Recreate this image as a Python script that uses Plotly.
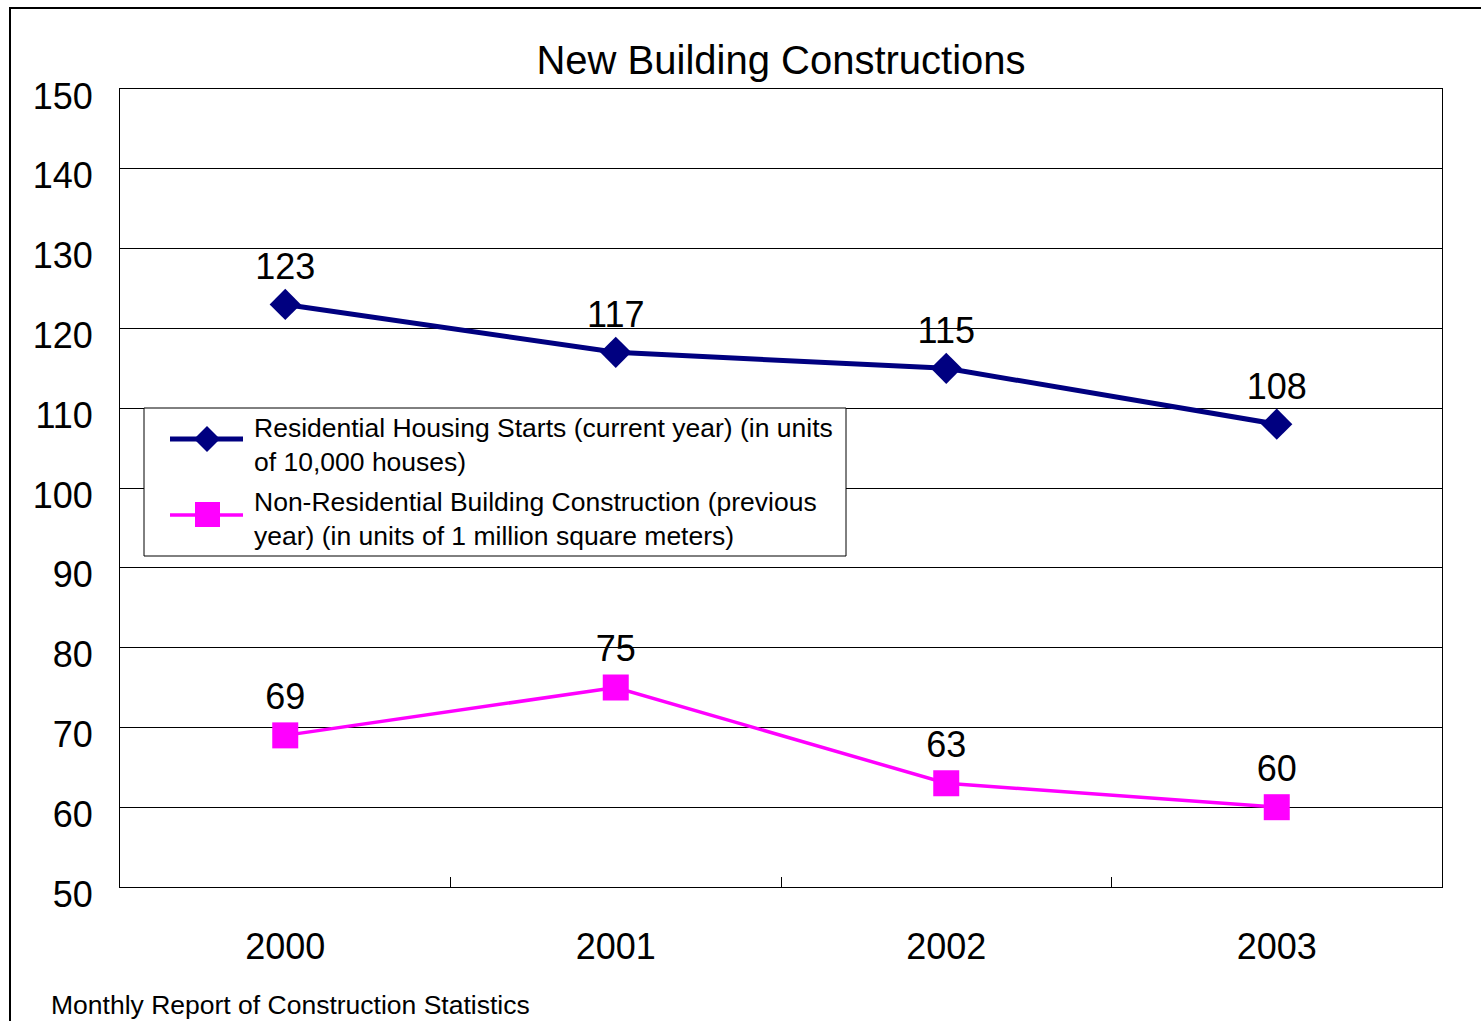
import plotly.graph_objects as go

years = ["2000", "2001", "2002", "2003"]
residential = [123, 117, 115, 108]
non_residential = [69, 75, 63, 60]
y_ticks = [50, 60, 70, 80, 90, 100, 110, 120, 130, 140, 150]

res_name = "Residential Housing Starts (current year) (in units<br>of 10,000 houses)"
nonres_name = "Non-Residential Building Construction (previous<br>year) (in units of 1 million square meters)"

NAVY = "#000080"
MAGENTA = "#FF00FF"
FONT = "Liberation Sans, Arial, sans-serif"
W, H = 1481, 1021
L, R, T, B = 120, 1442, 89, 887

fig = go.Figure()
fig.add_trace(go.Scatter(
    x=years, y=residential, name=res_name, mode="lines+markers+text",
    line=dict(color=NAVY, width=5),
    marker=dict(symbol="diamond", size=24, color=NAVY),
    text=[str(v) for v in residential], textposition="top center",
    textfont=dict(size=36, color="black", family=FONT),
))
fig.add_trace(go.Scatter(
    x=years, y=non_residential, name=nonres_name, mode="lines+markers+text",
    line=dict(color=MAGENTA, width=3.5),
    marker=dict(symbol="square", size=26, color=MAGENTA),
    text=[str(v) for v in non_residential], textposition="top center",
    textfont=dict(size=36, color="black", family=FONT),
))


def px_x(p):
    return (p - L) / (R - L)


def px_y(p):
    return (B - p) / (B - T)


# custom legend (layout decoration)
shapes = [
    dict(type="rect", xref="paper", yref="paper",
         x0=px_x(10), x1=px_x(1500), y0=px_y(1040), y1=px_y(8),
         line=dict(color="black", width=2), layer="below"),
    dict(type="rect", xref="paper", yref="paper",
         x0=px_x(144), x1=px_x(846), y0=px_y(556), y1=px_y(408),
         line=dict(color="black", width=1), fillcolor="white", layer="above"),
    dict(type="line", xref="paper", yref="paper",
         x0=px_x(170), x1=px_x(243), y0=px_y(439), y1=px_y(439),
         line=dict(color=NAVY, width=5), layer="above"),
    dict(type="path", xref="paper", yref="paper",
         path="M {},{} L {},{} L {},{} L {},{} Z".format(
             px_x(207), px_y(426), px_x(220), px_y(439),
             px_x(207), px_y(452), px_x(194), px_y(439)),
         line=dict(color=NAVY, width=0), fillcolor=NAVY, layer="above"),
    dict(type="line", xref="paper", yref="paper",
         x0=px_x(170), x1=px_x(243), y0=px_y(515), y1=px_y(515),
         line=dict(color=MAGENTA, width=3.5), layer="above"),
    dict(type="rect", xref="paper", yref="paper",
         x0=px_x(195), x1=px_x(220), y0=px_y(527), y1=px_y(502),
         line=dict(color=MAGENTA, width=0), fillcolor=MAGENTA, layer="above"),
]

annotations = [
    dict(text="Monthly Report of Construction Statistics", xref="paper", yref="paper",
         x=px_x(49), y=px_y(1005), xanchor="left", yanchor="middle", showarrow=False,
         font=dict(size=26.5, family=FONT, color="black")),
    dict(text=res_name, xref="paper", yref="paper",
         x=px_x(252), y=px_y(445), xanchor="left", yanchor="middle", align="left",
         showarrow=False, font=dict(size=26.5, family=FONT, color="black")),
    dict(text=nonres_name, xref="paper", yref="paper",
         x=px_x(252), y=px_y(519), xanchor="left", yanchor="middle", align="left",
         showarrow=False, font=dict(size=26.5, family=FONT, color="black")),
]

fig.update_layout(
    width=W, height=H,
    margin=dict(l=L, r=W - R, t=T, b=H - B),
    paper_bgcolor="white", plot_bgcolor="white",
    font=dict(family=FONT, color="black"),
    title=dict(text="New Building Constructions", x=0.5, xref="paper", xanchor="center",
               y=1 - 60 / H, yref="container", yanchor="middle",
               font=dict(size=40, family=FONT, color="black")),
    showlegend=False,
    xaxis=dict(type="category", range=[-0.5, 3.5], showgrid=False,
               tickson="boundaries", ticks="inside", ticklen=10, tickcolor="black",
               showline=True, linecolor="black", linewidth=1, mirror=True,
               tickfont=dict(size=36, family=FONT, color="black"),
               ticklabelstandoff=28, zeroline=False),
    yaxis=dict(range=[50, 150], tickvals=y_ticks, showgrid=True, gridcolor="black",
               gridwidth=1, showline=True, linecolor="black", linewidth=1, mirror=True,
               ticks="", tickfont=dict(size=36, family=FONT, color="black"),
               ticklabelstandoff=19, ticklabelshift=7, zeroline=False),
    shapes=shapes,
    annotations=annotations,
)

fig.write_html("out.html", config={"displayModeBar": False},
               post_script="document.body.style.margin='0';document.body.style.padding='0';")
